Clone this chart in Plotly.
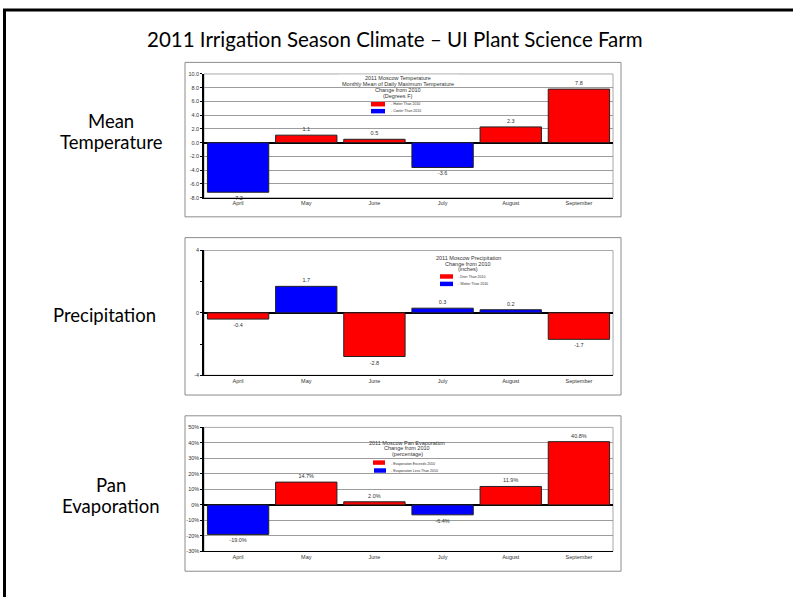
import plotly.graph_objects as go

# ---------------- data ----------------
months = ["April", "May", "June", "July", "August", "September"]
temp_change = [-7.2, 1.1, 0.5, -3.6, 2.3, 7.8]
precip_change = [-0.4, 1.7, -2.8, 0.3, 0.2, -1.7]
evap_change = [-19.0, 14.7, 2.0, -6.4, 11.9, 40.8]

temp_ticks = [-8, -6, -4, -2, 0, 2, 4, 6, 8, 10]
precip_ticks = [-4, -2, 0, 2, 4]
precip_ticktext = ["-4", "", "0", "", "4"]
evap_ticks = [-30, -20, -10, 0, 10, 20, 30, 40, 50]
evap_ticktext = [f"{v}%" for v in evap_ticks]

RED = "#ff0000"
BLUE = "#0000ff"

W, H = 793, 597


def px(x):
    return x / W


def py(y):
    return 1 - y / H


def colors(vals, pos_color, neg_color):
    return [pos_color if v >= 0 else neg_color for v in vals]


fig = go.Figure()

TICKFONT = dict(family="Liberation Sans, Arial", size=5.5, color="#333333")
LABELFONT = dict(family="Liberation Sans, Arial", size=5.5, color="#333333")

# Bars
fig.add_trace(go.Bar(
    x=months, y=temp_change, xaxis="x", yaxis="y",
    marker=dict(color=colors(temp_change, RED, BLUE), line=dict(color="#222222", width=1)),
    text=[f"{v:.1f}" for v in temp_change], textposition="outside",
    textfont=LABELFONT, cliponaxis=False, showlegend=False, hoverinfo="x+y",
))
fig.add_trace(go.Bar(
    x=months, y=precip_change, xaxis="x2", yaxis="y2",
    marker=dict(color=colors(precip_change, BLUE, RED), line=dict(color="#222222", width=1)),
    text=[f"{v:.1f}" for v in precip_change], textposition="outside",
    textfont=LABELFONT, cliponaxis=False, showlegend=False, hoverinfo="x+y",
))
fig.add_trace(go.Bar(
    x=months, y=evap_change, xaxis="x3", yaxis="y3",
    marker=dict(color=colors(evap_change, RED, BLUE), line=dict(color="#222222", width=1)),
    text=[f"{v:.1f}%" for v in evap_change], textposition="outside",
    textfont=LABELFONT, cliponaxis=False, showlegend=False, hoverinfo="x+y",
))

XDOM = [px(204), px(613)]
xcommon = dict(domain=XDOM, showline=True, linecolor="#000000", linewidth=1,
               ticks="", tickfont=TICKFONT, showgrid=False, fixedrange=True)
ycommon = dict(showline=True, linecolor="#000000", linewidth=1.5, ticks="outside",
               ticklen=2, tickcolor="#000000", tickfont=TICKFONT, zeroline=True,
               zerolinecolor="#000000", zerolinewidth=1.5, gridcolor="#9c9c9c",
               gridwidth=1.2, fixedrange=True, tickmode="array")

fig.update_layout(
    width=W, height=H, autosize=False,
    margin=dict(l=0, r=0, t=0, b=0),
    paper_bgcolor="white", plot_bgcolor="white",
    bargap=0.1,
    xaxis=dict(anchor="y", **xcommon),
    xaxis2=dict(anchor="y2", **xcommon),
    xaxis3=dict(anchor="y3", **xcommon),
    yaxis=dict(anchor="x", domain=[py(196.7), py(71.7)], range=[-8, 10],
               tickvals=temp_ticks, ticktext=[f"{v:.1f}" for v in temp_ticks],
               showgrid=True, **ycommon),
    yaxis2=dict(anchor="x2", domain=[py(376), py(250)], range=[-4, 4],
                tickvals=precip_ticks, ticktext=precip_ticktext, showgrid=False, **ycommon),
    yaxis3=dict(anchor="x3", domain=[py(554), py(428.7)], range=[-30, 50],
                tickvals=evap_ticks, ticktext=evap_ticktext, showgrid=True, **ycommon),
)

shapes = []
# slide border
shapes.append(dict(type="rect", xref="paper", yref="paper", x0=px(4.5), x1=px(820),
                   y0=py(7), y1=py(640), line=dict(color="#000000", width=3)))
# panel boxes
for top, bot in [(60, 216), (237, 396), (417, 574)]:
    shapes.append(dict(type="rect", xref="paper", yref="paper", x0=px(185), x1=px(621),
                       y0=py(bot), y1=py(top), line=dict(color="#8c8c8c", width=1)))
# plot-area borders (gray top/right)
for xa, ya in [("x", "y"), ("x2", "y2"), ("x3", "y3")]:
    shapes.append(dict(type="rect", xref=f"{xa} domain", yref=f"{ya} domain", x0=0, x1=1,
                       y0=0, y1=1, line=dict(color="#a8a8a8", width=1), layer="below"))
# white boxes behind chart titles
shapes.append(dict(type="rect", xref="paper", yref="paper", x0=px(338), x1=px(458),
                   y0=py(120), y1=py(72.5), line=dict(width=0), fillcolor="white", layer="between"))
shapes.append(dict(type="rect", xref="paper", yref="paper", x0=px(360), x1=px(453),
                   y0=py(472), y1=py(429.5), line=dict(width=0), fillcolor="white", layer="between"))
# legend keys
legend_keys = [
    (371, 385, 100, 104.5, RED), (371, 385, 107, 111.5, BLUE),
    (440, 453, 274, 278.5, RED), (440, 453, 281.5, 286, BLUE),
    (373, 385, 462, 466.5, RED), (374, 386, 470, 474.5, BLUE),
]
for x0, x1, y0, y1, c in legend_keys:
    shapes.append(dict(type="rect", xref="paper", yref="paper", x0=px(x0), x1=px(x1),
                       y0=py(y1), y1=py(y0), line=dict(width=0), fillcolor=c, layer="above"))

fig.update_layout(shapes=shapes)

ann = []
TFONT = dict(family="Liberation Sans, Arial", size=5.5, color="#333333")
LFONT = dict(family="Liberation Sans, Arial", size=3.5, color="#333333")


def add_text(text, x, y, font, xanchor="center", yanchor="middle"):
    ann.append(dict(text=text, x=px(x), y=py(y), xref="paper", yref="paper",
                    showarrow=False, font=font, xanchor=xanchor, yanchor=yanchor))


# main title
add_text("2011 Irrigation Season Climate \u2013 UI Plant Science Farm", 395, 36,
         dict(family="Lato, Open Sans", size=20.5, color="#000000"))
# row labels
RFONT = dict(family="Lato, Open Sans", size=18.5, color="#000000")
add_text("Mean", 111, 119, RFONT)
add_text("Temperature", 111, 140, RFONT)
add_text("Precipitation", 105, 315, RFONT)
add_text("Pan", 111, 487, RFONT)
add_text("Evaporation", 111, 508, RFONT)

# chart titles
for i, line in enumerate(["2011 Moscow Temperature", "Monthly Mean of Daily Maximum Temperature",
                          "Change from 2010", "(Degrees F)"]):
    add_text(line, 398, 76 + i * 6, TFONT)
add_text("- Hotter Than 2010", 389, 102.2, LFONT, xanchor="left")
add_text("- Cooler Than 2010", 389, 109.3, LFONT, xanchor="left")

for i, line in enumerate(["2011 Moscow Precipitation", "Change from 2010", "(inches)"]):
    add_text(line, 468, 257.5 + i * 5.8, TFONT)
add_text("- Drier Than 2010", 456, 276.3, LFONT, xanchor="left")
add_text("- Wetter Than 2010", 456, 283.8, LFONT, xanchor="left")

for i, line in enumerate(["2011 Moscow Pan Evaporation", "Change from 2010", "(percentage)"]):
    add_text(line, 407, 444 + i * 6, TFONT)
add_text("- Evaporation Exceeds 2010", 389, 466, LFONT, xanchor="left")
add_text("- Evaporation Less Than 2010", 389, 472.5, LFONT, xanchor="left")

fig.update_layout(annotations=ann)

fig.write_html("out.html", config={"displayModeBar": False},
               post_script="document.body.style.margin='0';document.body.style.overflow='hidden';")
